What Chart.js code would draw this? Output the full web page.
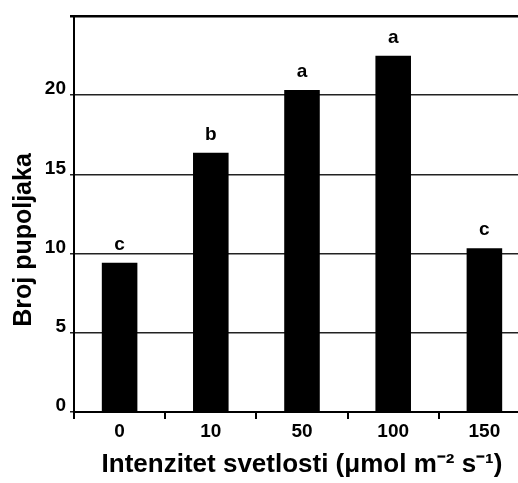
<!DOCTYPE html>
<html>
<head>
<meta charset="utf-8">
<script src="https://cdn.jsdelivr.net/npm/chart.js@4.4.1/dist/chart.umd.min.js"></script>
<style>
  html, body { margin: 0; padding: 0; background: #ffffff; overflow: hidden; width: 518px; height: 483px; }
  #wrap { position: absolute; left: 0; top: 0; width: 530px; height: 483px; }
</style>
</head>
<body>
<div id="wrap"><canvas id="c" width="530" height="483"></canvas></div>
<script>
const categories = ['0', '10', '50', '100', '150'];
const budCounts = [9.43, 16.37, 20.33, 22.49, 10.33];
const significanceLetters = ['c', 'b', 'a', 'a', 'c'];
const yMax = 25;
const yStep = 5;
const xTitle = 'Intenzitet svetlosti (μmol m⁻² s⁻¹)';
const yTitle = 'Broj pupoljaka';

const FONT = '"Liberation Sans", Arial, sans-serif';

const letterPlugin = {
  id: 'letters',
  afterDatasetsDraw(chart) {
    const ctx = chart.ctx;
    const meta = chart.getDatasetMeta(0);
    ctx.save();
    ctx.fillStyle = '#000';
    ctx.font = 'bold 19px ' + FONT;
    ctx.textAlign = 'center';
    ctx.textBaseline = 'alphabetic';
    meta.data.forEach((bar, i) => {
      ctx.fillText(significanceLetters[i], bar.x, bar.y - 13);
    });
    ctx.restore();
  }
};

const yTitlePlugin = {
  id: 'ytitle',
  afterDraw(chart) {
    const ctx = chart.ctx;
    ctx.save();
    ctx.translate(24, 240);
    ctx.rotate(-Math.PI / 2);
    ctx.fillStyle = '#000';
    ctx.font = 'bold 25px ' + FONT;
    ctx.textAlign = 'center';
    ctx.textBaseline = 'middle';
    ctx.fillText(yTitle, 0, 0);
    ctx.restore();
  }
};

new Chart(document.getElementById('c'), {
  type: 'bar',
  data: {
    labels: categories,
    datasets: [{
      data: budCounts,
      backgroundColor: '#000000',
      borderWidth: 0,
      barPercentage: 0.39,
      categoryPercentage: 1.0
    }]
  },
  options: {
    responsive: false,
    devicePixelRatio: 1,
    animation: false,
    layout: { padding: { top: 16, right: 0, left: 0, bottom: 0 } },
    plugins: {
      legend: { display: false },
      tooltip: { enabled: false }
    },
    scales: {
      x: {
        afterFit(s) { s.height = 71; },
        grid: {
          offset: true,
          drawOnChartArea: false,
          drawTicks: true,
          tickLength: 7,
          color: '#000',
          lineWidth: 2
        },
        border: { color: '#000', width: 2 },
        ticks: {
          color: '#000',
          font: { family: FONT, size: 19, weight: 'bold' },
          padding: 1
        },
        title: {
          display: true,
          text: xTitle,
          color: '#000',
          font: { family: FONT, size: 26, weight: 'bold' },
          padding: { top: 0, bottom: 3 }
        }
      },
      y: {
        afterFit(s) { s.width = 74; },
        min: 0,
        max: yMax,
        grid: {
          color: (c) => (c.tick && c.tick.value === yMax) ? '#000' : '#222',
          lineWidth: (c) => (c.tick && c.tick.value === yMax) ? 2.5 : 1.5,
          tickLength: 4,
          drawTicks: true
        },
        border: { color: '#000', width: 2 },
        ticks: {
          stepSize: yStep,
          color: '#000',
          font: { family: FONT, size: 19, weight: 'bold' },
          padding: 4,
          labelOffset: -6,
          callback: (v) => v === yMax ? '' : String(v)
        }
      }
    }
  },
  plugins: [letterPlugin, yTitlePlugin]
});
</script>
</body>
</html>
